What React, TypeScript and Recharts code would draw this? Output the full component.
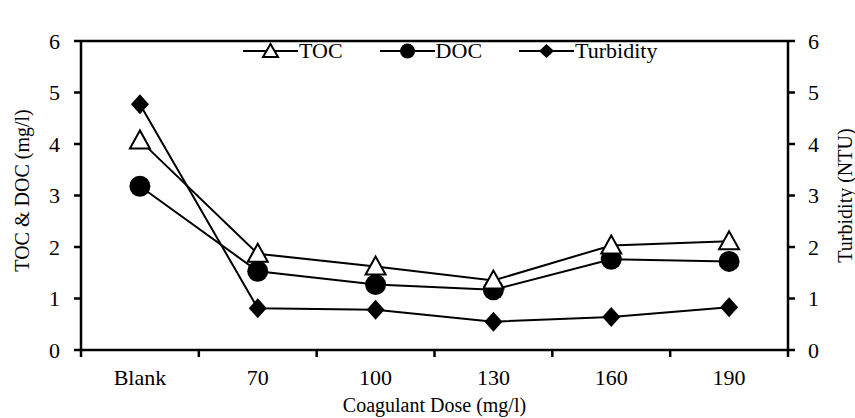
import React from 'react';
import { LineChart, Line, XAxis, YAxis, ReferenceLine, Legend, Label } from 'recharts';

const categories = ['Blank', '70', '100', '130', '160', '190'];
const tocValues = [4.07, 1.87, 1.62, 1.35, 2.03, 2.11];
const docValues = [3.18, 1.53, 1.27, 1.17, 1.76, 1.72];
const turbidityValues = [4.77, 0.81, 0.78, 0.55, 0.64, 0.83];
const yTicks = [0, 1, 2, 3, 4, 5, 6];

const data = categories.map((dose, i) => ({
    dose,
    toc: tocValues[i],
    doc: docValues[i],
    turbidity: turbidityValues[i],
}));

const W = 855;
const H = 418;
const margin = { top: 19, right: 0, bottom: 0, left: 11 };
const FONT = 'Liberation Serif, DejaVu Serif, serif';
const PLOT_LEFT = 81;
const PLOT_RIGHT = 788;
const AXIS_Y = 350;
const HALF_BAND = (PLOT_RIGHT - PLOT_LEFT) / categories.length / 2;

const Triangle = (props: any) => {
    const { cx, cy } = props;
    if (cx == null || cy == null) return null;
    return (
        <polygon
            points={`${cx},${cy - 10} ${cx - 10},${cy + 8} ${cx + 10},${cy + 8}`}
            fill="#fff"
            stroke="#000"
            strokeWidth={2}
        />
    );
};

const Dot = (props: any) => {
    const { cx, cy } = props;
    if (cx == null || cy == null) return null;
    return <circle cx={cx} cy={cy} r={10.5} fill="#000" />;
};

const Diamond = (props: any) => {
    const { cx, cy } = props;
    if (cx == null || cy == null) return null;
    return <polygon points={`${cx},${cy - 10} ${cx + 9},${cy} ${cx},${cy + 10} ${cx - 9},${cy}`} fill="#000" />;
};

const DoseTick = (props: any) => {
    const { x, payload, index } = props;
    return (
        <g>
            <line x1={x - HALF_BAND} x2={x - HALF_BAND} y1={AXIS_Y} y2={AXIS_Y + 7} stroke="#000" strokeWidth={2.5} />
            {index === categories.length - 1 && (
                <line x1={x + HALF_BAND} x2={x + HALF_BAND} y1={AXIS_Y} y2={AXIS_Y + 7} stroke="#000" strokeWidth={2.5} />
            )}
            <text x={x} y={AXIS_Y + 35} textAnchor="middle" style={{ fontSize: 22, fontFamily: FONT }} fill="#000">
                {payload.value}
            </text>
        </g>
    );
};

const legendItems = [
    { name: 'TOC', marker: 'triangle' },
    { name: 'DOC', marker: 'circle' },
    { name: 'Turbidity', marker: 'diamond' },
];

const LegendContent = () => (
    <div style={{ display: 'flex', alignItems: 'center', fontFamily: FONT, fontSize: 22, color: '#000', lineHeight: '22px' }}>
        {legendItems.map((item, i) => (
            <div key={item.name} style={{ display: 'flex', alignItems: 'center', marginRight: i < 2 ? 37 : 0 }}>
                <svg width={55} height={20}>
                    <line x1={0} x2={55} y1={10} y2={10} stroke="#000" strokeWidth={2} />
                    {item.marker === 'triangle' && (
                        <polygon points="27.5,3 20,16 35,16" fill="#fff" stroke="#000" strokeWidth={2} />
                    )}
                    {item.marker === 'circle' && <circle cx={27.5} cy={10} r={7.5} fill="#000" />}
                    {item.marker === 'diamond' && <polygon points="27.5,3 35,10 27.5,17 20,10" fill="#000" />}
                </svg>
                <span style={{ marginLeft: 1 }}>{item.name}</span>
            </div>
        ))}
    </div>
);

const leftTitle = (props: any) => {
    const { viewBox } = props;
    const cx = 22;
    const cy = viewBox.y + viewBox.height / 2 - 5;
    return (
        <text x={cx} y={cy} transform={`rotate(-90, ${cx}, ${cy})`} textAnchor="middle" dominantBaseline="central"
            style={{ fontSize: 20, fontFamily: FONT }} fill="#000">
            TOC &amp; DOC (mg/l)
        </text>
    );
};

const rightTitle = (props: any) => {
    const { viewBox } = props;
    const cx = 845;
    const cy = viewBox.y + viewBox.height / 2;
    return (
        <text x={cx} y={cy} transform={`rotate(-90, ${cx}, ${cy})`} textAnchor="middle" dominantBaseline="central"
            style={{ fontSize: 20, fontFamily: FONT }} fill="#000">
            Turbidity (NTU)
        </text>
    );
};

export default function App() {
    const tickStyle = { fontSize: 22, fontFamily: FONT, fill: '#000' };
    return (
        <div style={{ position: 'absolute', left: 0, top: 0, width: W, height: H, background: '#fff', fontFamily: FONT }}>
            <LineChart width={W} height={H} data={data} margin={margin} style={{ fontFamily: FONT }}>
                <XAxis
                    dataKey="dose"
                    height={68}
                    padding={{ left: HALF_BAND, right: HALF_BAND }}
                    axisLine={{ stroke: '#000', strokeWidth: 2.5 }}
                    tickLine={false}
                    tick={<DoseTick />}
                    interval={0}
                >
                    <Label value="Coagulant Dose (mg/l)" position="insideBottom" offset={6}
                        style={{ fontSize: 20, fontFamily: FONT, fill: '#000' }} />
                </XAxis>
                <YAxis
                    yAxisId="left"
                    width={70}
                    domain={[0, 6]}
                    ticks={yTicks}
                    tickSize={7}
                    tickMargin={14}
                    axisLine={{ stroke: '#000', strokeWidth: 2.5 }}
                    tickLine={{ stroke: '#000', strokeWidth: 2.5 }}
                    tick={tickStyle}
                >
                    <Label content={leftTitle} />
                </YAxis>
                <YAxis
                    yAxisId="right"
                    orientation="right"
                    width={67}
                    domain={[0, 6]}
                    ticks={yTicks}
                    tickSize={7}
                    tickMargin={13}
                    axisLine={{ stroke: '#000', strokeWidth: 2.5 }}
                    tickLine={{ stroke: '#000', strokeWidth: 2.5 }}
                    tick={tickStyle}
                >
                    <Label content={rightTitle} />
                </YAxis>
                <ReferenceLine yAxisId="left" y={6} stroke="#000" strokeWidth={2.5} />
                <Legend
                    verticalAlign="top"
                    content={<LegendContent />}
                    wrapperStyle={{ position: 'absolute', left: 243, top: 40, width: 'auto' }}
                />
                <Line yAxisId="right" dataKey="turbidity" name="Turbidity" stroke="#000" strokeWidth={2}
                    dot={<Diamond />} isAnimationActive={false} />
                <Line yAxisId="left" dataKey="doc" name="DOC" stroke="#000" strokeWidth={2}
                    dot={<Dot />} isAnimationActive={false} />
                <Line yAxisId="left" dataKey="toc" name="TOC" stroke="#000" strokeWidth={2}
                    dot={<Triangle />} isAnimationActive={false} />
            </LineChart>
        </div>
    );
}
